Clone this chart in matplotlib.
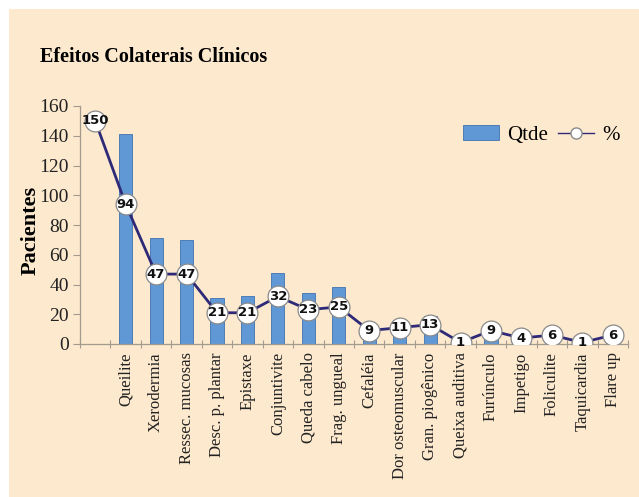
import matplotlib
matplotlib.use('Agg')
import matplotlib.pyplot as plt
import numpy as np
from matplotlib.lines import Line2D
from matplotlib.patches import Patch, Rectangle

categorias = ['', 'Queilite', 'Xerodermia', 'Ressec. mucosas', 'Desc. p. plantar',
              'Epistaxe', 'Conjuntivite', 'Queda cabelo', 'Frag. ungueal',
              'Cefaléia', 'Dor osteomuscular', 'Gran. piogênico', 'Queixa auditiva',
              'Furúnculo', 'Impetigo', 'Foliculite', 'Taquicardia', 'Flare up']
qtde = [np.nan, 141, 71, 70, 31, 32, 48, 34, 38, 13, 16, 19, 2, 13, 6, 9, 2, 9]
pct = [150, 94, 47, 47, 21, 21, 32, 23, 25, 9, 11, 13, 1, 9, 4, 6, 1, 6]
yticks = [0, 20, 40, 60, 80, 100, 120, 140, 160]

BG = '#fde9ce'
BAR = '#6098d6'
LINE = '#2e2a78'
SPINE = '#a39a8e'
SERIF = ['Liberation Serif', 'DejaVu Serif']

fig = plt.figure(figsize=(6.39, 4.97), dpi=100)
fig.patch.set_facecolor('white')
fig.patches.append(Rectangle((9 / 639, 0), 1, 1 - 9 / 497, transform=fig.transFigure,
                             facecolor=BG, edgecolor='none', zorder=-10))

ax = fig.add_axes([80 / 639, 1 - 344 / 497, 548 / 639, 238 / 497])
ax.set_facecolor('none')

x = np.arange(len(categorias))
ax.bar(x, qtde, width=0.43, color=BAR, edgecolor='#3f72b0', linewidth=0.6, zorder=2)
ax.plot(x, pct, color=LINE, linewidth=2.0, marker='o', markersize=15,
        markerfacecolor='white', markeredgecolor='#8a8a8a', markeredgewidth=0.9, zorder=3)
for xi, v in zip(x, pct):
    ax.text(xi, v, str(v), ha='center', va='center', fontsize=9.5,
            fontweight='bold', family='DejaVu Sans', color='#111', zorder=4)

ax.set_xlim(-0.5, len(categorias) - 0.5)
ax.set_ylim(0, 160)
ax.set_yticks(yticks)
ax.set_yticklabels([str(t) for t in yticks], family=SERIF, fontsize=14, color='#222')
ax.set_xticks(x)
ax.set_xticklabels(categorias, rotation=90, family=SERIF, fontsize=12, color='#222')
ax.set_xticks(np.arange(-0.5, len(categorias)), minor=True)
ax.tick_params(axis='x', which='major', length=0, pad=6)
ax.tick_params(axis='x', which='minor', direction='inout', length=6, color=SPINE, width=0.8)
ax.tick_params(axis='y', direction='out', length=5, color=SPINE, width=0.8, pad=3)

for s in ('top', 'right'):
    ax.spines[s].set_visible(False)
for s in ('left', 'bottom'):
    ax.spines[s].set_color(SPINE)
    ax.spines[s].set_linewidth(0.9)

handles = [Patch(facecolor=BAR, edgecolor='#3f72b0', linewidth=0.6),
           Line2D([], [], color=LINE, linewidth=1.0, marker='o', markersize=8,
                  markerfacecolor='white', markeredgecolor='#8a8a8a')]
ax.legend(handles, ['Qtde', '%'], ncol=2, frameon=False, loc='center',
          bbox_to_anchor=(0.842, 0.878), prop={'family': SERIF, 'size': 15},
          handlelength=1.7, handletextpad=0.4, columnspacing=0.5)

fig.text(40 / 639, 1 - 62 / 497, 'Efeitos Colaterais Clínicos', family=SERIF,
         fontsize=14.5, fontweight='bold', va='baseline', ha='left')
fig.text(31 / 639, 1 - 230 / 497, 'Pacientes', family=SERIF, fontsize=16,
         fontweight='bold', rotation=90, va='center', ha='center')

fig.savefig('out.png', dpi=100, facecolor=fig.get_facecolor())
